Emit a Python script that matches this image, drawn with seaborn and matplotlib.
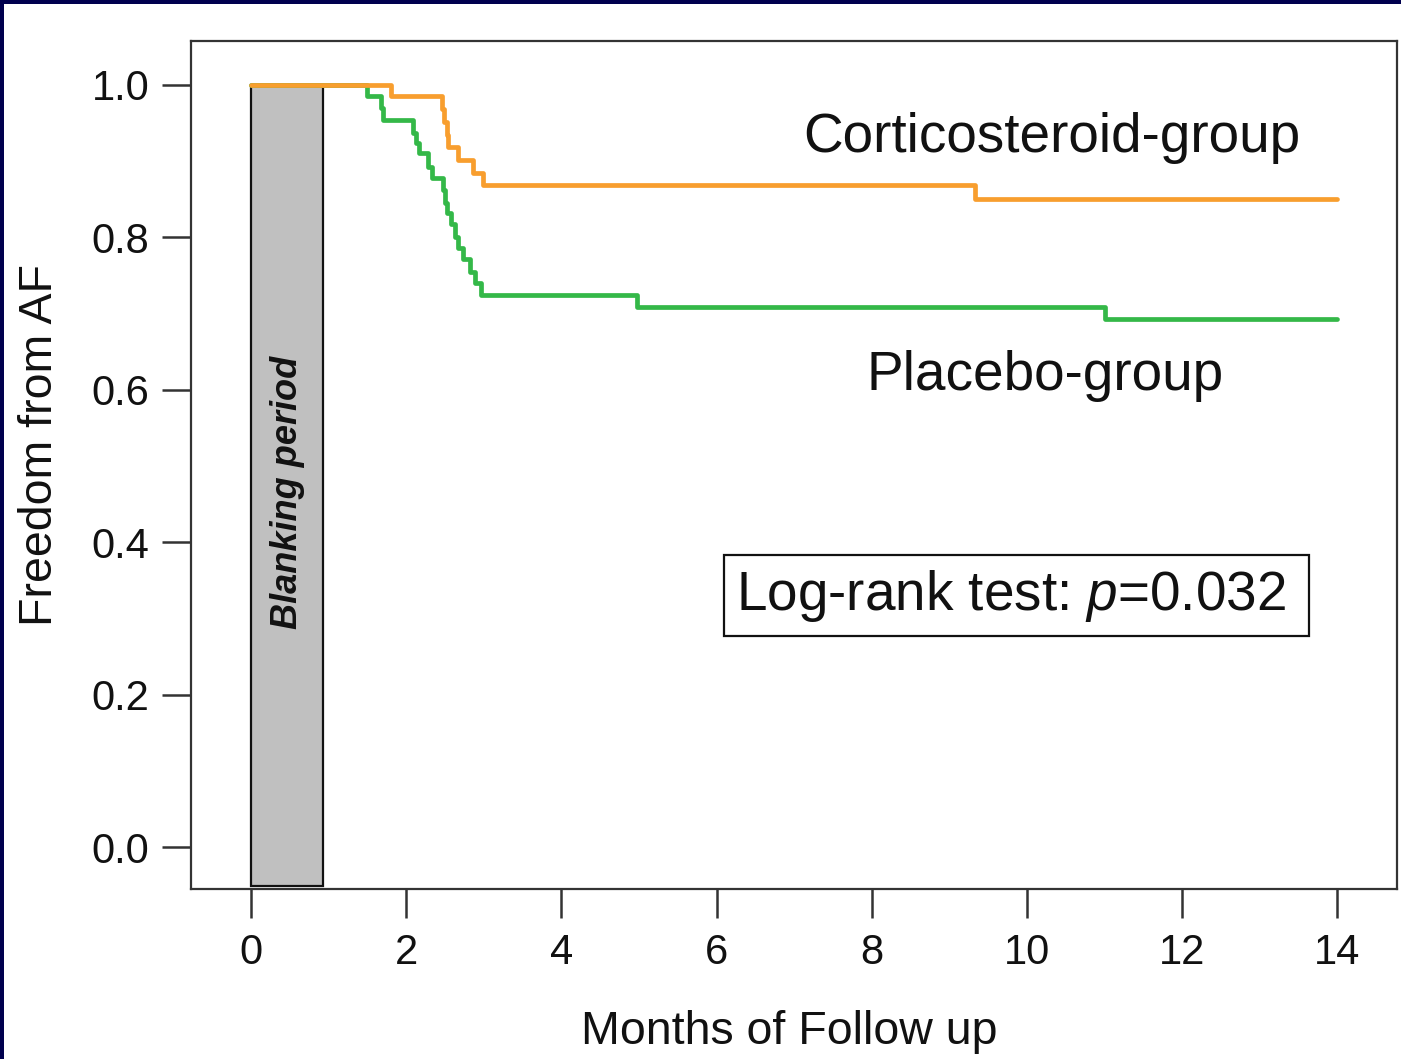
import matplotlib
matplotlib.use("Agg")
import matplotlib.pyplot as plt
from matplotlib.patches import Rectangle
import seaborn as sns
import pandas as pd

# Kaplan-Meier estimates: freedom from AF by months of follow-up
cort_months = [0.0, 1.81, 2.46, 2.49, 2.52, 2.54, 2.67, 2.86, 2.99, 9.33, 14.0]
cort_surv = [1.0, 0.985, 0.968, 0.952, 0.935, 0.918, 0.902, 0.885, 0.869, 0.851, 0.851]

plac_months = [0.0, 1.49, 1.67, 1.70, 2.09, 2.13, 2.16, 2.28, 2.33, 2.48, 2.50,
               2.53, 2.58, 2.63, 2.67, 2.73, 2.82, 2.89, 2.97, 4.98, 11.01, 14.0]
plac_surv = [1.0, 0.985, 0.970, 0.954, 0.937, 0.924, 0.911, 0.893, 0.878, 0.862, 0.845,
             0.832, 0.817, 0.801, 0.786, 0.772, 0.755, 0.740, 0.724, 0.709, 0.693, 0.693]

groups = ["Corticosteroid-group", "Placebo-group"]
colors = {"Corticosteroid-group": "#F89E2E", "Placebo-group": "#34B848"}

blanking_end = 0.93
x_ticks = [0, 2, 4, 6, 8, 10, 12, 14]
y_ticks = [0.0, 0.2, 0.4, 0.6, 0.8, 1.0]
y_tick_labels = ["0.0", "0.2", "0.4", "0.6", "0.8", "1.0"]
p_text = "Log-rank test: $p$=0.032"

df = pd.concat([
    pd.DataFrame({"month": cort_months, "surv": cort_surv, "group": groups[0]}),
    pd.DataFrame({"month": plac_months, "surv": plac_surv, "group": groups[1]}),
])

sns.set_theme(style="white")
plt.rcParams["font.family"] = ["Liberation Sans", "DejaVu Sans"]
plt.rcParams["mathtext.fontset"] = "custom"
plt.rcParams["mathtext.it"] = "Liberation Sans:italic"
plt.rcParams["mathtext.rm"] = "Liberation Sans"

fig = plt.figure(figsize=(14.01, 10.59), dpi=100)
fig.patch.set_facecolor("#00004E")
# white page inside the navy frame
fig.patches.append(Rectangle((4 / 1401, 0), 1.0, (1059 - 4) / 1059,
                             transform=fig.transFigure, facecolor="white",
                             edgecolor="none", zorder=-5))

ax = fig.add_axes([191 / 1401, 1 - 889 / 1059, (1397 - 191) / 1401, (889 - 41) / 1059])
ax.set_facecolor("white")

ymin = -0.0551
# blanking period bar
ax.bar([0], [1.0 - ymin - 0.004], bottom=ymin + 0.004, width=blanking_end, align="edge",
       color="#C0C0C0", edgecolor="#111111", linewidth=1.6, zorder=1)
ax.text(blanking_end / 2, 0.465, "Blanking period", rotation=90, ha="center", va="center",
        fontsize=26, fontweight="bold", fontstyle="italic", color="#111111", zorder=2)

sns.lineplot(data=df, x="month", y="surv", hue="group", palette=colors,
             hue_order=groups[::-1], estimator=None, drawstyle="steps-post",
             linewidth=3.4, legend=False, ax=ax, zorder=3)

ax.set_xlim(-0.773, 14.77)
ax.set_ylim(ymin, 1.0577)
ax.set_xticks(x_ticks)
ax.set_xticklabels([str(t) for t in x_ticks])
ax.set_yticks(y_ticks)
ax.set_yticklabels(y_tick_labels)

for s in ax.spines.values():
    s.set_color("#333333")
    s.set_linewidth(1.6)
ax.tick_params(axis="both", which="major", direction="out", length=21, width=1.8,
               color="#333333", labelsize=30, labelcolor="#111111",
               bottom=True, left=True)
ax.tick_params(axis="x", pad=11)
ax.tick_params(axis="y", pad=9)

ax.set_xlabel("Months of Follow up", fontsize=33.5, color="#111111")
ax.xaxis.set_label_coords(0.496, -0.1686)
ax.xaxis.label.set_va("center")
ax.set_ylabel("Freedom from AF", fontsize=33.5, color="#111111")
ax.yaxis.set_label_coords(-0.125, 0.524)
ax.yaxis.label.set_va("center")

ax.text(10.32, 0.930, groups[0], fontsize=39.5, ha="center", va="center", color="#111111")
ax.text(10.23, 0.618, groups[1], fontsize=39.5, ha="center", va="center", color="#111111")

ax.add_patch(Rectangle((6.09, 0.277), 13.63 - 6.09, 0.383 - 0.277, facecolor="white",
                       edgecolor="#111111", linewidth=1.6, zorder=4))
ax.text(9.80, 0.330, p_text, fontsize=39.5, ha="center", va="center", color="#111111", zorder=5)

fig.savefig("out.png", dpi=100, facecolor=fig.get_facecolor())
